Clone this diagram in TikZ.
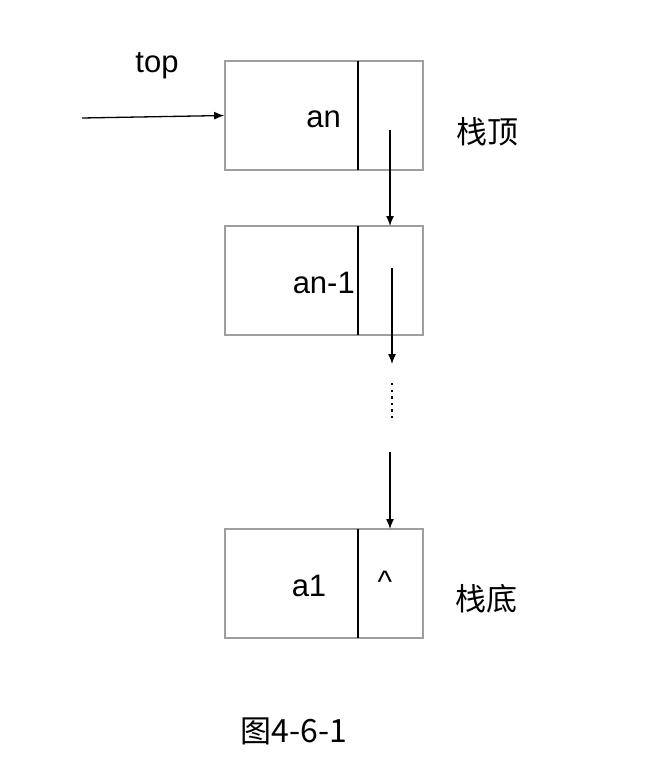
\documentclass[tikz,border=0pt]{standalone}
\usepackage{fontspec}
\setmainfont{Liberation Sans}
\newfontfamily\cjk{Noto Sans CJK SC}
\usetikzlibrary{arrows.meta}
\begin{document}
\begin{tikzpicture}[x=1pt,y=-1pt,
  cell/.style={draw=black!38,line width=1.6pt,inner sep=0pt},
  divider/.style={line width=1.6pt,black},
  ptr/.style={line width=1.3pt,-{Latex[length=10pt,width=8pt]}},
  lab/.style={font=\fontsize{31}{34}\selectfont,inner sep=0pt},
  cn/.style={font=\cjk\fontsize{31}{34}\selectfont,inner sep=0pt}]
\useasboundingbox (0,0) rectangle (650,782);
% boxes
\node[cell,minimum width=198pt,minimum height=109pt] (b1) at (324,115.5) {};
\node[cell,minimum width=198pt,minimum height=109pt] (b2) at (324,280.5) {};
\node[cell,minimum width=198pt,minimum height=109pt] (b3) at (324,583.5) {};
\draw[divider] (358,61) coordinate (d1t) -- (358,170) coordinate (d1b);
\draw[divider] (358,226) coordinate (d2t) -- (358,335) coordinate (d2b);
\draw[divider] (358,529) coordinate (d3t) -- (358,638) coordinate (d3b);
% texts
\node[lab] (top) at (157,66) {top};
\node[lab,anchor=east] (an) at (341,119) {an};
\node[lab,anchor=east] (an1) at (355,283) {an-1};
\node[lab] (a1) at (309,586) {a1};
\node[lab] (nil) at (385,582) {\^{}};
\node[cn] (st) at (487,132) {栈顶};
\node[cn] (sb) at (486,599) {栈底};
\node[cn] (cap) at (294,731) {图\fontsize{32}{34}\selectfont 4-6-1};
% arrows
\coordinate (s0) at (82,118);
\draw[ptr] (s0) -- (b1.west);
\coordinate (s1) at (390,130);
\draw[ptr] (s1) -- (390,226) coordinate (e1);
\coordinate (s2) at (392,268);
\draw[ptr] (s2) -- (392,364) coordinate (e2);
\draw[line width=2.4pt,dash pattern=on 2.4pt off 4.2pt] (392,383) coordinate (dt) -- (392,422) coordinate (db);
\coordinate (s3) at (390,452);
\draw[ptr] (s3) -- (390,529) coordinate (e3);
\end{tikzpicture}
\end{document}
